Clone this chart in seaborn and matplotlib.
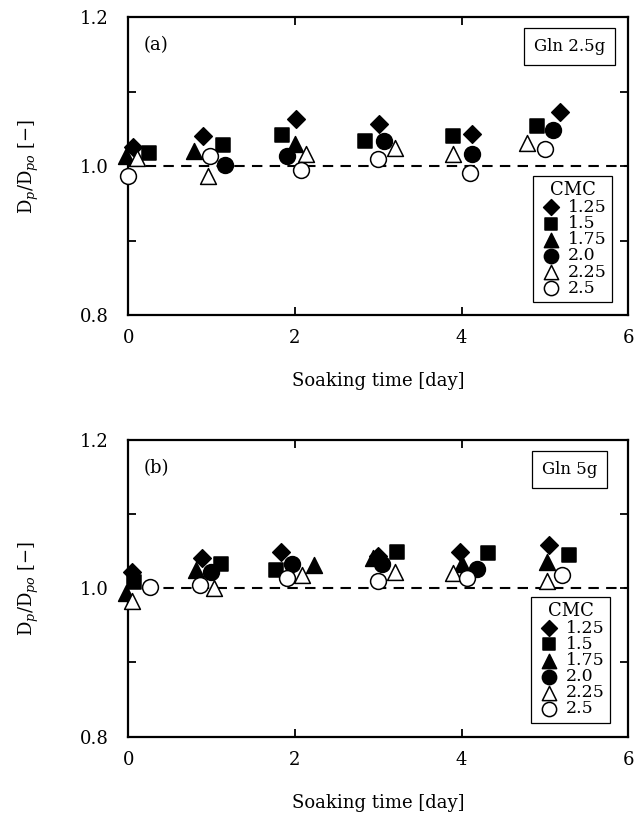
import numpy as np
import pandas as pd
import seaborn as sns
import matplotlib
matplotlib.use('Agg')
import matplotlib.pyplot as plt

# CMC levels and their markers (filled / open)
cmc_labels = ['1.25', '1.5', '1.75', '2.0', '2.25', '2.5']
cmc_markers = ['D', 's', '^', 'o', '^', 'o']
cmc_faces = ['black', 'black', 'black', 'black', 'white', 'white']
cmc_sizes = [80, 100, 130, 130, 130, 130]

nan = np.nan

# panel (a): Gln 2.5 g -- soaking time [day] and Dp/Dpo per CMC level
a_t = [
  [0.06, 0.90, 2.01, 3.01, 4.12, 5.18],
  [0.25, 1.14, 1.85, 2.84, 3.90, 4.90],
  [-0.03, 0.79, 2.00, nan, nan, nan],
  [nan, 1.16, 1.90, 3.07, 4.12, 5.10],
  [0.10, 0.96, 2.13, 3.20, 3.90, 4.78],
  [0.00, 0.98, 2.07, 3.00, 4.10, 5.00],
]
a_d = [
  [1.025, 1.040, 1.063, 1.056, 1.043, 1.072],
  [1.018, 1.028, 1.042, 1.034, 1.041, 1.054],
  [1.013, 1.020, 1.030, nan, nan, nan],
  [nan, 1.001, 1.014, 1.034, 1.016, 1.048],
  [1.011, 0.986, 1.016, 1.024, 1.016, 1.031],
  [0.987, 1.014, 0.995, 1.009, 0.991, 1.023],
]

# panel (b): Gln 5 g
b_t = [
  [0.05, 0.88, 1.83, 3.00, 3.98, 5.05],
  [0.07, 1.11, 1.77, 3.22, 4.32, 5.29],
  [-0.03, 0.81, 2.23, 2.94, 4.00, 5.03],
  [nan, 0.99, 1.97, 3.04, 4.18, nan],
  [0.05, 1.03, 2.09, 3.20, 3.90, 5.03],
  [0.26, 0.86, 1.90, 3.00, 4.06, 5.21],
]
b_d = [
  [1.022, 1.040, 1.049, 1.043, 1.049, 1.058],
  [1.008, 1.033, 1.024, 1.049, 1.047, 1.045],
  [0.993, 1.024, 1.031, 1.040, 1.033, 1.035],
  [nan, 1.022, 1.033, 1.033, 1.026, nan],
  [0.983, 1.000, 1.017, 1.022, 1.020, 1.010],
  [1.001, 1.004, 1.013, 1.010, 1.013, 1.017],
]

sns.set_style('ticks')
plt.rcParams['font.family'] = ['DejaVu Serif']
plt.rcParams['mathtext.fontset'] = 'dejavuserif'
plt.rcParams['text.color'] = 'black'
plt.rcParams['axes.labelcolor'] = 'black'
plt.rcParams['xtick.color'] = 'black'
plt.rcParams['ytick.color'] = 'black'

fig = plt.figure(figsize=(6.41, 8.14), dpi=100)
ax_a = fig.add_axes([0.2, 0.613, 0.78, 0.366])
ax_b = fig.add_axes([0.2, 0.095, 0.78, 0.365])


def draw_panel(ax, times, vals, tag, gln, leg_anchor):
  ax.axhline(1.0, color='black', lw=1.5, ls=(0, (5, 3.5)), zorder=1)
  for i, lab in enumerate(cmc_labels):
    df = pd.DataFrame({'t': times[i], 'd': vals[i]}).dropna()
    sns.scatterplot(data=df, x='t', y='d', ax=ax,
                    marker=cmc_markers[i], s=cmc_sizes[i],
                    color=cmc_faces[i], edgecolor='black',
                    linewidth=1.1, label=lab, zorder=3, clip_on=False)
  ax.set_xlim(0, 6)
  ax.set_ylim(0.8, 1.2)
  ax.set_xticks([0, 2, 4, 6])
  ax.set_yticks([0.8, 0.9, 1.0, 1.1, 1.2])
  ax.set_yticklabels(['0.8', '', '1.0', '', '1.2'])
  ax.tick_params(direction='in', top=True, right=True, length=6,
                 width=1.3, labelsize=13)
  ax.tick_params(axis='x', pad=10)
  ax.tick_params(axis='y', pad=14)
  for sp in ax.spines.values():
    sp.set_linewidth(1.6)
    sp.set_color('black')
  ax.set_xlabel('Soaking time [day]', fontsize=13, labelpad=18)
  ax.set_ylabel(r'D$_{p}$/D$_{po}$ [$-$]', fontsize=13, labelpad=28)
  ax.text(0.03, 0.905, tag, transform=ax.transAxes, fontsize=13,
          ha='left', va='center')
  ax.text(0.883, 0.9, gln, transform=ax.transAxes, fontsize=12,
          ha='center', va='center',
          bbox=dict(boxstyle='square,pad=0.6', fc='white',
                    ec='black', lw=0.9))
  leg = ax.legend(title='CMC', loc='lower right', bbox_to_anchor=leg_anchor,
                  borderaxespad=0, fontsize=12.5, title_fontsize=13,
                  frameon=True, fancybox=False, edgecolor='black',
                  framealpha=1, labelspacing=-0.05, handletextpad=0.3,
                  handlelength=1.4, borderpad=0.3, markerscale=0.9)
  leg.get_frame().set_linewidth(0.9)
  leg._legend_box.sep = 0


draw_panel(ax_a, a_t, a_d, '(a)', 'Gln 2.5g', (0.968, 0.044))
draw_panel(ax_b, b_t, b_d, '(b)', 'Gln 5g', (0.964, 0.047))

fig.savefig('out.png', dpi=100)
